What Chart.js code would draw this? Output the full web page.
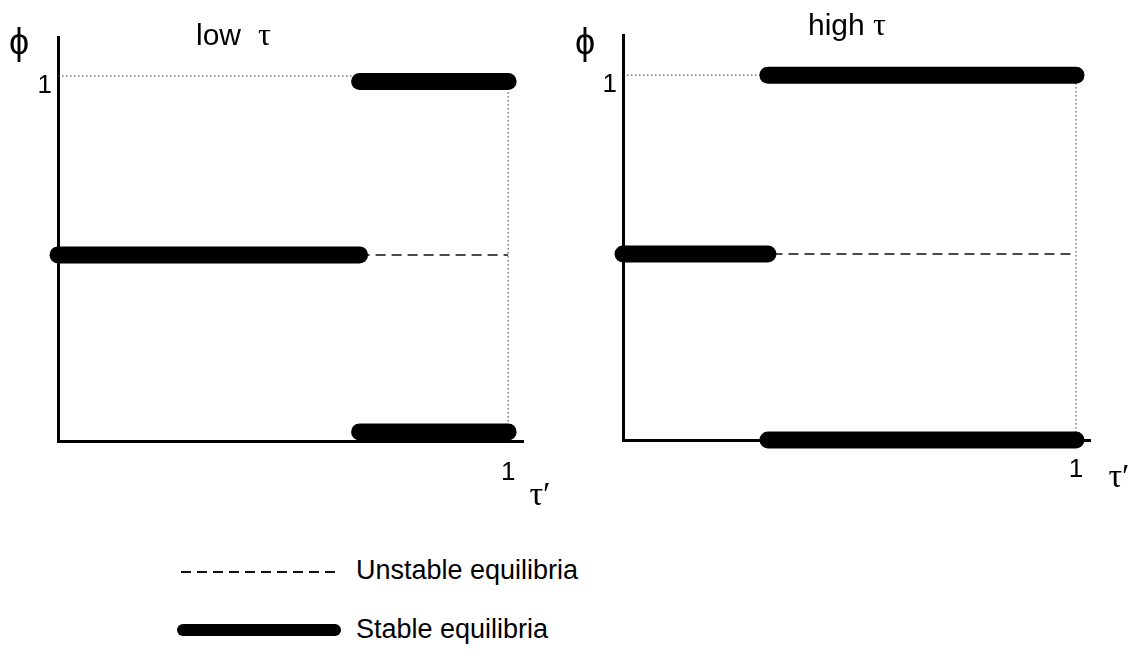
<!DOCTYPE html>
<html>
<head>
<meta charset="utf-8">
<script src="https://cdn.jsdelivr.net/npm/chart.js@4.4.1/dist/chart.umd.min.js"></script>
<style>
  html, body { margin:0; padding:0; background:#fff; }
  body { width:1137px; height:658px; overflow:hidden; position:relative; font-family:"Liberation Sans", Arial, "DejaVu Sans", sans-serif; }
  canvas { position:absolute; top:0; }
  #lowTau { left:0; }
  #highTau { left:560px; }
  .row { position:absolute; left:0; width:700px; height:40px; }
  .sym { position:absolute; }
  .lab { position:absolute; left:356px; top:0; font-size:27px; color:#000; white-space:nowrap; line-height:40px; }
</style>
</head>
<body>
<canvas id="lowTau" width="560" height="520"></canvas>
<canvas id="highTau" width="577" height="520"></canvas>

<div class="row" style="top:550px;">
  <div class="sym" style="left:181px; top:21px; width:154px; height:1.5px; background:repeating-linear-gradient(to right, #111 0 10px, transparent 10px 16px);"></div>
  <div class="lab">Unstable equilibria</div>
</div>
<div class="row" style="top:609px;">
  <div class="sym" style="left:177px; top:15px; width:164px; height:12px; background:#000; border-radius:6px;"></div>
  <div class="lab">Stable equilibria</div>
</div>

<script>
// ---- data (tau' on x, phi on y) ----
// low tau panel
const lowStableTopX = [0.67, 1.0];
const lowStableTopY = [0.985, 0.985];
const lowStableMidX = [0.0, 0.67];
const lowStableMidY = [0.51, 0.51];
const lowStableBotX = [0.67, 1.0];
const lowStableBotY = [0.025, 0.025];
const lowUnstableX = [0.67, 1.0];
const lowUnstableY = [0.51, 0.51];
const lowGuideHX = [0.0, 0.67];
const lowGuideHY = [1.0, 1.0];
// high tau panel
const highStableTopX = [0.32, 1.0];
const highStableTopY = [1.0, 1.0];
const highStableMidX = [0.0, 0.32];
const highStableMidY = [0.51, 0.51];
const highStableBotX = [0.32, 1.0];
const highStableBotY = [0.0, 0.0];
const highUnstableX = [0.33, 1.0];
const highUnstableY = [0.51, 0.51];
const highGuideHX = [0.0, 0.32];
const highGuideHY = [1.0, 1.0];
// shared guide at tau' = 1
const guideVX = [1.0, 1.0];
const guideVY = [1.0, 0.0];
// tick labels
const xTickValues = [1];
const xTickLabels = ['1'];
const yTickValues = [1];
const yTickLabels = ['1'];

const FONT = '"Liberation Sans", Arial, "DejaVu Sans", sans-serif';
const SERIF = '"Liberation Serif", "DejaVu Serif", serif';

function pts(xs, ys) { return xs.map((x, i) => ({ x: x, y: ys[i] })); }

function stable(xs, ys) {
  return { data: pts(xs, ys), borderColor:'#000', borderWidth:17, borderCapStyle:'round',
           pointRadius:0, fill:false, clip:false, order:1 };
}
function unstable(xs, ys) {
  return { data: pts(xs, ys), borderColor:'#111', borderWidth:1.5, borderDash:[10,6],
           pointRadius:0, fill:false, clip:false, order:2 };
}
function dotted(xs, ys) {
  return { data: pts(xs, ys), borderColor:'#333', borderWidth:1, borderDash:[1.5,2.5],
           pointRadius:0, fill:false, clip:false, order:3 };
}

const textPlugin = {
  id: 'panelText',
  afterDraw(chart, args, opts) {
    const ctx = chart.ctx;
    ctx.save();
    ctx.fillStyle = '#000';
    (opts.items || []).forEach(it => {
      ctx.font = it.size + 'px ' + (it.family || FONT);
      ctx.textAlign = it.align || 'left';
      ctx.textBaseline = it.baseline || 'alphabetic';
      ctx.fillText(it.text, it.x, it.y);
    });
    ctx.restore();
  }
};

function makePanel(id, cfg) {
  return new Chart(document.getElementById(id), {
    type: 'line',
    data: { datasets: cfg.datasets },
    options: {
      responsive: false,
      animation: false,
      events: [],
      layout: { padding: { left: 0, top: cfg.top, right: cfg.right, bottom: 0 } },
      plugins: { legend: { display:false }, tooltip: { enabled:false }, title: { display:false },
                 panelText: { items: cfg.texts } },
      scales: {
        x: {
          type: 'linear', min: 0, max: cfg.xMax,
          grid: { display:false, drawTicks:false },
          border: { display:true, color:'#000', width:3 },
          ticks: { color:'#000', font:{ family:FONT, size:26 }, padding:cfg.xPad,
                   callback: (v) => { const i = xTickValues.indexOf(v); return i >= 0 ? xTickLabels[i] : ''; } },
          afterBuildTicks: (s) => { s.ticks = xTickValues.map(v => ({ value:v })); },
          afterFit: (s) => { s.height = cfg.xAxisH; }
        },
        y: {
          type: 'linear', min: 0, max: cfg.yMax,
          grid: { display:false, drawTicks:false },
          border: { display:true, color:'#000', width:3 },
          ticks: { color:'#000', font:{ family:FONT, size:26 }, padding:6, labelOffset:10,
                   callback: (v) => { const i = yTickValues.indexOf(v); return i >= 0 ? yTickLabels[i] : ''; } },
          afterBuildTicks: (s) => { s.ticks = yTickValues.map(v => ({ value:v })); },
          afterFit: (s) => { s.width = cfg.yAxisW; }
        }
      }
    },
    plugins: [textPlugin]
  });
}

makePanel('lowTau', {
  top: 37, right: 37, xAxisH: 79, yAxisW: 58, xMax: 1.033, yMax: 1.107, xPad: 16,
  datasets: [
    dotted(lowGuideHX, lowGuideHY), dotted(guideVX, guideVY),
    unstable(lowUnstableX, lowUnstableY),
    stable(lowStableTopX, lowStableTopY), stable(lowStableMidX, lowStableMidY), stable(lowStableBotX, lowStableBotY)
  ],
  texts: [
    { text:'low', x:196, y:45, size:30 },
    { text:'\u03C4', x:258, y:45, size:32, family:SERIF },
    { text:'\u03D5', x:19, y:44, size:36, align:'center', baseline:'middle' },
    { text:'\u03C4\u2032', x:540, y:496, size:34, align:'center', baseline:'middle', family:SERIF }
  ]
});

makePanel('highTau', {
  top: 35, right: 47, xAxisH: 80, yAxisW: 63, xMax: 1.031, yMax: 1.11, xPad: 14,
  datasets: [
    dotted(highGuideHX, highGuideHY), dotted(guideVX, guideVY),
    unstable(highUnstableX, highUnstableY),
    stable(highStableTopX, highStableTopY), stable(highStableMidX, highStableMidY), stable(highStableBotX, highStableBotY)
  ],
  texts: [
    { text:'high', x:248, y:35, size:30 },
    { text:'\u03C4', x:313, y:35, size:32, family:SERIF },
    { text:'\u03D5', x:25, y:44, size:36, align:'center', baseline:'middle' },
    { text:'\u03C4\u2032', x:559, y:478, size:34, align:'center', baseline:'middle', family:SERIF }
  ]
});
</script>
</body>
</html>
